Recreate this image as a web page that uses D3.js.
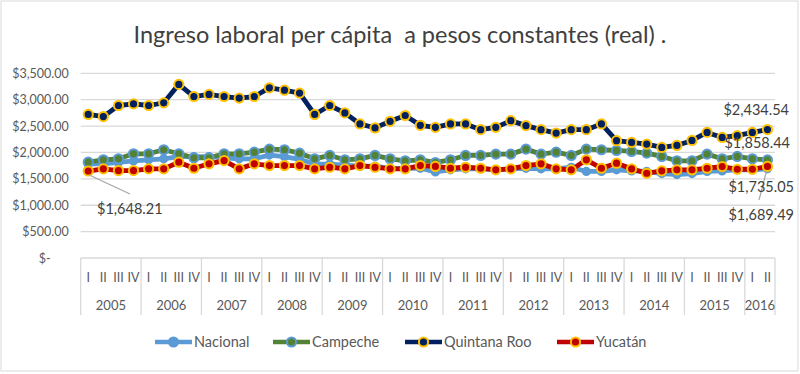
<!DOCTYPE html>
<html>
<head>
<meta charset="utf-8">
<script src="https://cdn.jsdelivr.net/npm/d3@7"></script>
<style>
  body { margin: 0; background: #fff; }
  svg text { font-family: Lato, "Open Sans", sans-serif; fill: #595959; }
</style>
</head>
<body>
<svg id="chart" width="800" height="374"></svg>
<script>
var years = ['2005', '2006', '2007', '2008', '2009', '2010', '2011', '2012', '2013', '2014', '2015', '2016'];
var quarters = ['I', 'II', 'III', 'IV'];
var yTicks = [0, 500, 1000, 1500, 2000, 2500, 3000, 3500];

var nacional = [
  1780, 1790, 1810, 1840, 1860, 1880, 1920, 1920, 1920, 1900, 1880, 1880,
  1950, 1920, 1870, 1780, 1780, 1760, 1740, 1740, 1700, 1700, 1700, 1630,
  1670, 1690, 1690, 1670, 1690, 1700, 1690, 1690, 1720, 1640, 1640, 1670,
  1650, 1640, 1600, 1580, 1600, 1640, 1650, 1670, 1670, 1689.49
];
var campeche = [
  1815, 1861, 1880, 1975, 1975, 2051, 1975, 1900, 1900, 1975, 1975, 2005,
  2063, 2051, 1987, 1880, 1943, 1861, 1880, 1943, 1880, 1842, 1861, 1810,
  1861, 1943, 1943, 1968, 1968, 2063, 1968, 2005, 1943, 2063, 2051, 2038,
  2019, 1987, 1924, 1842, 1842, 1968, 1880, 1924, 1880, 1858.44
];
var quintanaRoo = [
  2720, 2680, 2890, 2920, 2890, 2940, 3290, 3060, 3100, 3060, 3030, 3060,
  3225, 3180, 3125, 2720, 2890, 2750, 2540, 2465, 2590, 2700, 2515, 2476,
  2540, 2540, 2432, 2476, 2603, 2508, 2432, 2368, 2432, 2432, 2540, 2223,
  2190, 2158, 2095, 2133, 2228, 2380, 2285, 2318, 2380, 2434.54
];
var yucatan = [
  1648.21, 1689, 1657, 1657, 1689, 1689, 1815, 1701, 1785, 1847, 1689, 1785,
  1752, 1752, 1752, 1689, 1720, 1689, 1752, 1720, 1689, 1689, 1752, 1735,
  1701, 1720, 1701, 1670, 1689, 1752, 1785, 1689, 1670, 1861, 1701, 1796,
  1689, 1606, 1651, 1670, 1670, 1701, 1733, 1682, 1682, 1735.05
];

var series = [
  { name: 'Nacional', values: nacional, line: '#5B9BD5', fill: '#5B9BD5', stroke: '#5B9BD5', r: 3.6 },
  { name: 'Campeche', values: campeche, line: '#548235', fill: '#548235', stroke: '#5B9BD5', r: 4.6 },
  { name: 'Quintana Roo', values: quintanaRoo, line: '#002060', fill: '#002060', stroke: '#FFC000', r: 4.6 },
  { name: 'Yucatán', values: yucatan, line: '#C00000', fill: '#C00000', stroke: '#FFC000', r: 4.6 }
];

var plotLeft = 80.7, plotRight = 775, plotTop = 73.3, plotBottom = 258;

var svg = d3.select('#chart');

// outer border
svg.append('rect')
  .attr('x', 1).attr('y', 1)
  .attr('width', 797).attr('height', 370)
  .attr('fill', 'none')
  .attr('stroke', '#d9d9d9');

svg.append('text')
  .attr('x', 400).attr('y', 43)
  .attr('text-anchor', 'middle')
  .style('font-size', '23.5px')
  .style('fill', '#404040')
  .style('white-space', 'pre')
  .text('Ingreso laboral per cápita  a pesos constantes (real) .');

var cats = [];
years.forEach(function(yr) {
  var n = yr === '2016' ? 2 : 4;
  for (var q = 0; q < n; q++) cats.push(yr + '-' + q);
});

var x = d3.scaleBand().domain(cats).range([plotLeft, plotRight]);
var y = d3.scaleLinear().domain([0, 3500]).range([plotBottom, plotTop]);

var fmt = d3.format(',.2f');

var yAxis = svg.append('g')
  .attr('class', 'y-axis')
  .attr('transform', 'translate(' + plotLeft + ',0)')
  .call(d3.axisLeft(y).tickValues(yTicks).tickSize(0).tickPadding(12)
    .tickFormat(function(d) { return d === 0 ? '$-' : '$' + fmt(d); }));

yAxis.select('.domain').remove();
yAxis.selectAll('text')
  .style('font-size', '12.5px')
  .style('fill', '#595959')
  .style('font-family', 'Lato, sans-serif');
yAxis.selectAll('.tick').filter(function(d) { return d === 0; })
  .select('text').attr('x', -30);

// gridlines
svg.append('g')
  .selectAll('line')
  .data(yTicks)
  .enter()
  .append('line')
  .attr('x1', plotLeft).attr('x2', plotRight)
  .attr('y1', function(d) { return y(d); })
  .attr('y2', function(d) { return y(d); })
  .attr('stroke', '#d9d9d9')
  .attr('stroke-width', 1.3);

// category axis: year boxes
var yearBounds = [];
years.forEach(function(yr) {
  var inYr = cats.filter(function(c) { return c.indexOf(yr) === 0; });
  yearBounds.push({
    year: yr,
    x0: x(inYr[0]),
    x1: x(inYr[inYr.length - 1]) + x.bandwidth()
  });
});

svg.append('g')
  .selectAll('line')
  .data([plotLeft].concat(yearBounds.map(function(d) { return d.x1; })))
  .enter()
  .append('line')
  .attr('x1', function(d) { return d; })
  .attr('x2', function(d) { return d; })
  .attr('y1', plotBottom).attr('y2', 315)
  .attr('stroke', '#d9d9d9')
  .attr('stroke-width', 1.3);

svg.append('g')
  .selectAll('text')
  .data(cats)
  .enter()
  .append('text')
  .attr('x', function(d) { return x(d) + x.bandwidth() / 2; })
  .attr('y', 282)
  .attr('text-anchor', 'middle')
  .style('font-size', '12.5px')
  .text(function(d) { return quarters[+d.split('-')[1]]; });

svg.append('g')
  .selectAll('text')
  .data(yearBounds)
  .enter()
  .append('text')
  .attr('x', function(d) { return (d.x0 + d.x1) / 2; })
  .attr('y', 310)
  .attr('text-anchor', 'middle')
  .style('font-size', '13px')
  .text(function(d) { return d.year; });

// lines and markers
var line = d3.line()
  .x(function(d, i) { return x(cats[i]) + x.bandwidth() / 2; })
  .y(function(d) { return y(d); });

series.forEach(function(s) {
  var g = svg.append('g');
  g.append('path')
    .datum(s.values)
    .attr('d', line)
    .attr('fill', 'none')
    .attr('stroke', s.line)
    .attr('stroke-width', 4.8)
    .attr('stroke-linejoin', 'round');
  g.selectAll('circle')
    .data(s.values)
    .enter()
    .append('circle')
    .attr('cx', function(d, i) { return x(cats[i]) + x.bandwidth() / 2; })
    .attr('cy', function(d) { return y(d); })
    .attr('r', s.r)
    .attr('fill', s.fill)
    .attr('stroke', s.stroke)
    .attr('stroke-width', 2);
});

// data labels
var last = cats.length - 1;
var xLast = x(cats[last]) + x.bandwidth() / 2;
var xFirst = x(cats[0]) + x.bandwidth() / 2;

svg.append('line')
  .attr('x1', xFirst + 1).attr('y1', y(yucatan[0]) + 4)
  .attr('x2', 130).attr('y2', 194)
  .attr('stroke', '#a6a6a6').attr('stroke-width', 1.2);
svg.append('line')
  .attr('x1', xLast - 1).attr('y1', y(yucatan[last]) + 5)
  .attr('x2', 759).attr('y2', 200)
  .attr('stroke', '#a6a6a6').attr('stroke-width', 1.2);

var labels = [
  { v: yucatan[0], x: 97, y: 214, anchor: 'start' },
  { v: quintanaRoo[last], x: 789, y: 115, anchor: 'end' },
  { v: campeche[last], x: 790, y: 148, anchor: 'end' },
  { v: yucatan[last], x: 794, y: 192, anchor: 'end' },
  { v: nacional[last], x: 794, y: 220, anchor: 'end' }
];
svg.append('g')
  .selectAll('text')
  .data(labels)
  .enter()
  .append('text')
  .attr('x', function(d) { return d.x; })
  .attr('y', function(d) { return d.y; })
  .attr('text-anchor', function(d) { return d.anchor; })
  .style('font-size', '14.5px')
  .style('fill', '#404040')
  .text(function(d) { return '$' + fmt(d.v); });

// legend
var legendX = [155, 273, 405, 557];
var lg = svg.append('g');
series.forEach(function(s, i) {
  var gx = legendX[i];
  lg.append('line')
    .attr('x1', gx).attr('x2', gx + 37)
    .attr('y1', 342).attr('y2', 342)
    .attr('stroke', s.line).attr('stroke-width', 4.5);
  lg.append('circle')
    .attr('cx', gx + 18.5).attr('cy', 342)
    .attr('r', 4.6)
    .attr('fill', s.fill)
    .attr('stroke', s.stroke)
    .attr('stroke-width', 2);
  lg.append('text')
    .attr('x', gx + 39).attr('y', 347)
    .style('font-size', '14.5px')
    .text(s.name);
});
</script>
</body>
</html>
